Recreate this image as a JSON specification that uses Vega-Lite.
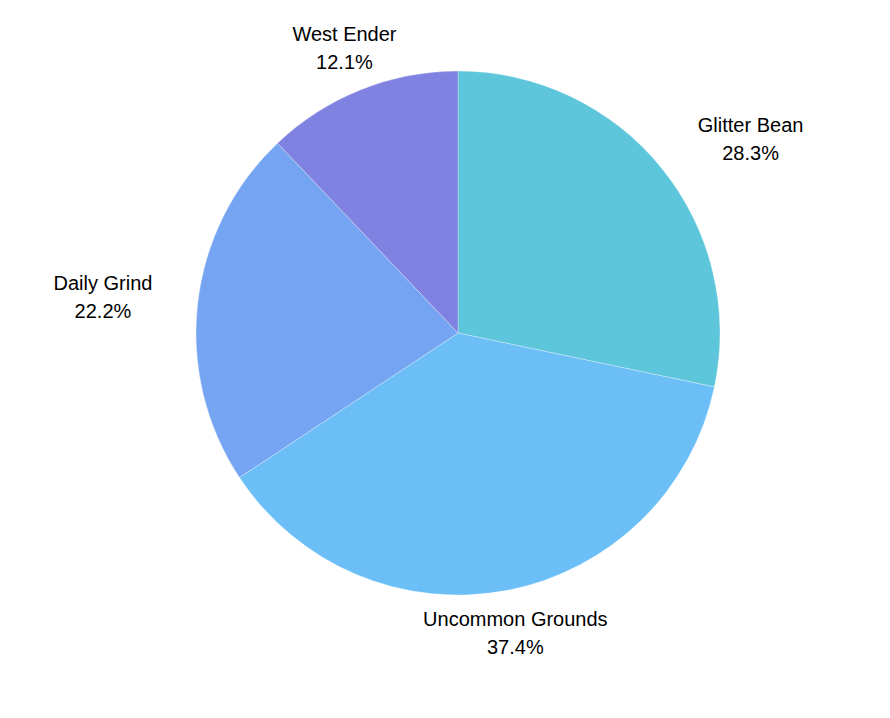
{
  "$schema": "https://vega.github.io/schema/vega-lite/v6.json",
  "width": 650,
  "height": 650,
  "autosize": "none",
  "padding": {"left": 133, "top": 8, "right": 107, "bottom": 60},
  "background": "white",
  "config": {"view": {"stroke": null}},
  "data": {
    "values": [
      {"name": "Glitter Bean", "value": 28.3},
      {"name": "Uncommon Grounds", "value": 37.4},
      {"name": "Daily Grind", "value": 22.2},
      {"name": "West Ender", "value": 12.1}
    ]
  },
  "transform": [
    {"window": [{"op": "row_number", "as": "idx"}]},
    {"calculate": "[datum.name, format(datum.value, '.1f') + '%']", "as": "label"}
  ],
  "encoding": {
    "theta": {"field": "value", "type": "quantitative", "stack": true},
    "order": {"field": "idx", "type": "quantitative"}
  },
  "layer": [
    {
      "mark": {"type": "arc", "outerRadius": 262, "stroke": "white", "strokeWidth": 0.3},
      "encoding": {
        "color": {
          "field": "name",
          "type": "nominal",
          "scale": {
            "domain": ["Glitter Bean", "Uncommon Grounds", "Daily Grind", "West Ender"],
            "range": ["#5DC6DA", "#6CBFF6", "#74A4F2", "#7F82E0"]
          },
          "legend": null
        }
      }
    },
    {
      "mark": {"type": "text", "radius": 306, "dy": -14, "fontSize": 20, "font": "Liberation Sans", "lineHeight": 28, "baseline": "middle", "align": "center", "color": "black"},
      "encoding": {
        "detail": {"field": "name", "type": "nominal"},
        "text": {"condition": {"test": "datum.name === 'Uncommon Grounds' || datum.name === 'West Ender'", "field": "label"}, "value": ""}
      }
    },
    {
      "mark": {"type": "text", "radius": 306, "dx": 55, "dy": -14, "fontSize": 20, "font": "Liberation Sans", "lineHeight": 28, "baseline": "middle", "align": "center", "color": "black"},
      "encoding": {
        "detail": {"field": "name", "type": "nominal"},
        "text": {"condition": {"test": "datum.name === 'Glitter Bean'", "field": "label"}, "value": ""}
      }
    },
    {
      "mark": {"type": "text", "radius": 306, "dx": -51, "dy": -14, "fontSize": 20, "font": "Liberation Sans", "lineHeight": 28, "baseline": "middle", "align": "center", "color": "black"},
      "encoding": {
        "detail": {"field": "name", "type": "nominal"},
        "text": {"condition": {"test": "datum.name === 'Daily Grind'", "field": "label"}, "value": ""}
      }
    }
  ]
}
